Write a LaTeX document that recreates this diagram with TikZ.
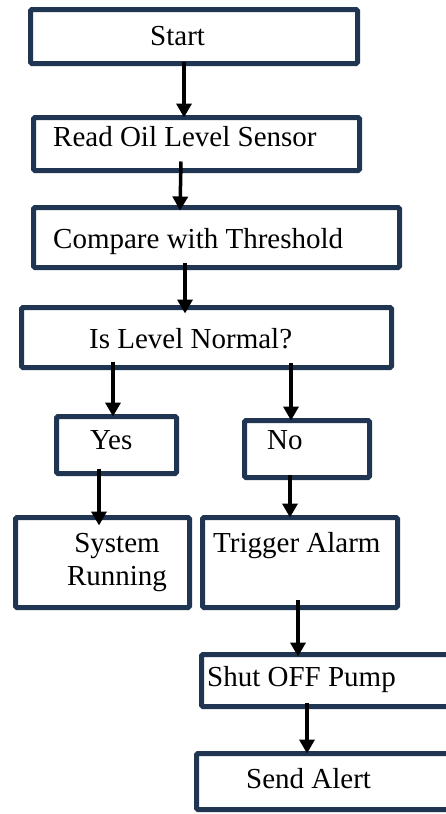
\documentclass[tikz,border=0pt]{standalone}
\usepackage{fontspec}
\setmainfont{Liberation Serif}
\usetikzlibrary{arrows.meta}
\definecolor{boxnavy}{RGB}{31,53,82}

\begin{document}
\begin{tikzpicture}[
  x=1pt, y=-1pt,
  box/.style={draw=boxnavy, line width=5pt, rounded corners=1.5pt,
              rectangle, inner sep=0pt, outer sep=0pt},
  txt/.style={font=\fontsize{29}{33}\selectfont, inner sep=0pt, anchor=base west},
  arr/.style={-{Triangle[length=14pt,width=15pt]}, line width=3.5pt, black}
]
  \useasboundingbox (0,0) rectangle (446,814);
  \clip (0,0) rectangle (446,814);

  % Boxes
  \node[box, minimum width=327pt, minimum height=54pt] (start) at (194,36.5) {};
  \node[box, minimum width=326pt, minimum height=53pt] (read)  at (196.5,144) {};
  \node[box, minimum width=366pt, minimum height=60pt] (comp)  at (216.5,237.5) {};
  \node[box, minimum width=370pt, minimum height=60pt] (norm)  at (206.5,337.5) {};
  \node[box, minimum width=120pt, minimum height=57pt] (yes)   at (116.5,445) {};
  \node[box, minimum width=125pt, minimum height=57pt] (no)    at (307,449) {};
  \node[box, minimum width=174pt, minimum height=90pt] (sys)   at (102.5,562.5) {};
  \node[box, minimum width=195pt, minimum height=90pt] (trig)  at (300,562.5) {};
  \node[box, minimum width=266pt, minimum height=52pt] (shut)  at (334.5,680.5) {};
  \node[box, minimum width=271pt, minimum height=56pt] (alert) at (332,781.5) {};

  % Texts
  \node[txt] (startT) at (150,45)  {Start};
  \node[txt] (readT)  at (53,146)  {Read Oil Level Sensor};
  \node[txt] (compT)  at (53,248)  {Compare with Threshold};
  \node[txt] (normT)  at (89,348)  {Is Level Normal?};
  \node[txt] (yesT)   at (90,449)  {Yes};
  \node[txt] (noT)    at (267,449) {No};
  \node[txt, anchor=center, align=center] (sysT) at (117,562.5) {System\\Running};
  \node[txt] (trigT)  at (213,552) {Trigger Alarm};
  \node[txt] (shutT)  at (207,686) {Shut OFF Pump};
  \node[txt] (alertT) at (246,788) {Send Alert};

  % Arrows
  \draw[arr] ([xshift=-10pt,yshift=2pt]start.south) -- ([xshift=-12.5pt]read.north);
  \draw[arr] ([xshift=-15.5pt,yshift=9pt]read.south) -- ([xshift=-36.5pt,yshift=-3pt]comp.north);
  \draw[arr] ([xshift=-31.5pt,yshift=5pt]comp.south) -- ([xshift=-21.5pt,yshift=-6pt]norm.north);
  \draw[arr] ([xshift=-93.5pt,yshift=6pt]norm.south) -- ([xshift=-3.5pt]yes.north);
  \draw[arr] ([xshift=84.5pt,yshift=5pt]norm.south) -- ([xshift=-16pt]no.north);
  \draw[arr] ([xshift=-17.5pt,yshift=5pt]yes.south) -- ([xshift=-3.5pt,yshift=-8pt]sys.north);
  \draw[arr] ([xshift=-17pt,yshift=3pt]no.south) -- ([xshift=-10pt]trig.north);
  \draw[arr] ([xshift=-2pt,yshift=8pt]trig.south) -- ([xshift=-36.5pt,yshift=-2pt]shut.north);
  \draw[arr] ([xshift=-27.5pt,yshift=4pt]shut.south) -- ([xshift=-25pt]alert.north);
\end{tikzpicture}
\end{document}
